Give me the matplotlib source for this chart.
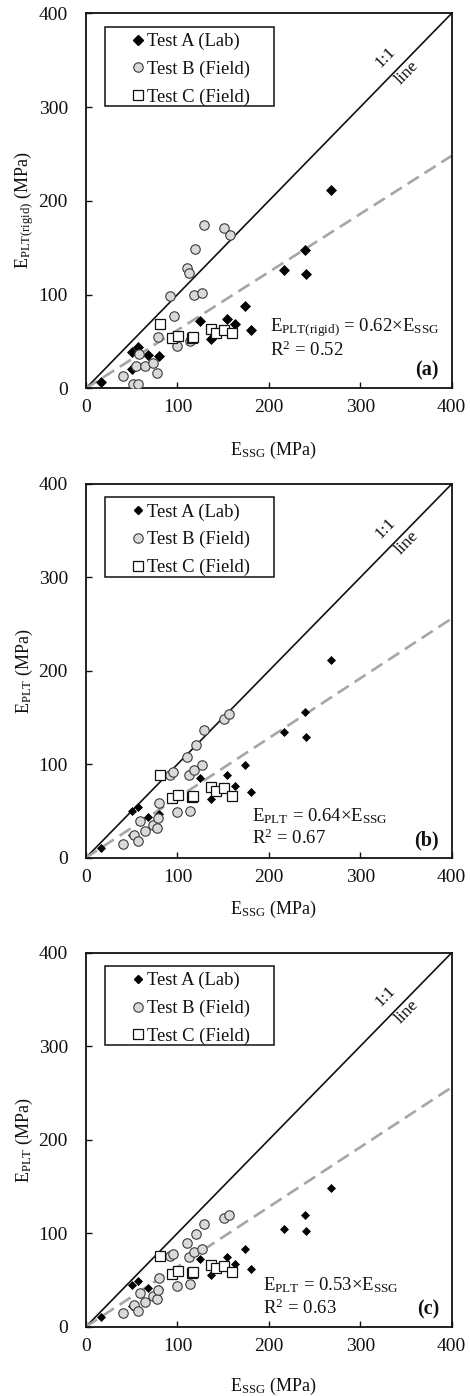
import matplotlib
matplotlib.use("Agg")
import matplotlib.pyplot as plt
from matplotlib.patches import Rectangle
from matplotlib.lines import Line2D

plt.rcParams['font.family'] = ['Liberation Serif', 'DejaVu Serif']
plt.rcParams['mathtext.fontset'] = 'custom'
plt.rcParams['mathtext.rm'] = 'Liberation Serif'
plt.rcParams['mathtext.it'] = 'Liberation Serif:italic'
plt.rcParams['mathtext.bf'] = 'Liberation Serif:bold'

# ---------------- data ----------------
# Test A (Lab): E_SSG shared by all panels
essg_A = [16, 50, 50, 57, 68, 80, 125, 137, 154.5, 162.5, 173.5, 180, 217, 240, 241, 267.5]
eplt_A_a = [7, 39, 21, 44, 35.5, 34.5, 72, 52.6, 73.6, 68.3, 88, 62, 126, 147.6, 122, 211.6]
eplt_A_b = [10, 50, 24, 54, 44, 47, 85, 63, 88, 77, 99, 70.5, 135, 156, 129.5, 211.6]
eplt_A_c = [10, 44.6, 22, 49.2, 41, 40, 72.4, 55.3, 74.9, 67, 82.8, 61.4, 105, 119, 102, 148]

# Test B (Field)
essg_B_a = [41, 51, 55, 57, 58.5, 64.5, 73.5, 77.5, 78.5, 92, 96.5, 100, 110, 113,
            114, 118, 119, 126.5, 129, 151, 157]
eplt_B_a = [13, 4.6, 23.8, 4.6, 36.3, 23.8, 27.3, 16.6, 55, 98.5, 77, 45, 128.7, 122.7,
            50.8, 99.5, 148.3, 102, 174, 170.7, 163.6]
essg_B = [41, 52, 57, 59, 64.5, 73.5, 77.5, 79, 80, 92, 95.5, 100, 110, 113, 114, 118,
          120, 126.5, 129, 151, 156.5]
eplt_B_b = [14.5, 24.3, 17.5, 39.3, 28.5, 34.5, 31.5, 42, 58.8, 88.5, 92, 48.5, 108, 88.5,
            50.5, 93.5, 121, 99.2, 136.7, 148, 153.8]
eplt_B_c = [14.7, 23.5, 17, 36.4, 26, 33, 29.3, 38.8, 52.6, 75.6, 77.6, 43.7, 89.5, 74.5,
            46, 80, 99, 82.8, 109.8, 116.3, 119.8]

# Test C (Field)
essg_C = [81, 94, 100.5, 116, 117.5, 137, 142, 150.5, 160]
eplt_C_a = [69, 53.3, 56.2, 53.8, 54.8, 63.5, 58.7, 61.7, 58.7]
eplt_C_b = [88.2, 63.5, 66.7, 64.8, 65.8, 76, 71.2, 74.3, 65.7]
eplt_C_c = [75.6, 56.3, 59.5, 57.3, 58.3, 66, 62.4, 64.5, 58.1]

# regression annotations
slope_text = [0.62, 0.64, 0.53]
r2_text = [0.52, 0.67, 0.63]
dashed_slope = [0.62, 0.64, 0.64]   # slope of the dashed line as drawn
panel_tags = ['(a)', '(b)', '(c)']
ylabel_subs = ['PLT(rigid)', 'PLT', 'PLT']
ticks = [0, 100, 200, 300, 400]
legend_labels = ['Test A (Lab)', 'Test B (Field)', 'Test C (Field)']

# ---------------- layout ----------------
W, H = 470, 1396
fig = plt.figure(figsize=(W / 100, H / 100), dpi=100)

ax_left, ax_right = 86, 451.7
ax_tops = [13.3, 484.0, 952.7]
ax_bots = [388.3, 857.7, 1326.7]
xlabel_off = [62, 52, 60]
ylabel_y = [0.475, 0.5, 0.5]
eq_pos = [(201, 64, 40), (182, 44, 21), (194, 44.6, 20)]
diamond_ms = [5.6, 4.2, 4.2]

A_sets = [eplt_A_a, eplt_A_b, eplt_A_c]
B_sets = [(essg_B_a, eplt_B_a), (essg_B, eplt_B_b), (essg_B, eplt_B_c)]
C_sets = [eplt_C_a, eplt_C_b, eplt_C_c]

circle_face = '#d9d9d9'
circle_edge = '#3a3a3a'
dash_col = '#a6a6a6'
ink = '#111111'

for i in range(3):
    l = ax_left / W
    w = (ax_right - ax_left) / W
    b = 1 - ax_bots[i] / H
    h = (ax_bots[i] - ax_tops[i]) / H
    ax = fig.add_axes([l, b, w, h])
    ax.set_xlim(0, 400)
    ax.set_ylim(0, 400)
    ax.set_xticks(ticks)
    ax.set_yticks(ticks)
    ax.tick_params(direction='in', length=4, width=1.0, labelsize=14, colors=ink)
    ax.tick_params(axis='x', pad=8)
    ax.tick_params(axis='y', pad=13)
    for sp in ax.spines.values():
        sp.set_linewidth(1.3)
        sp.set_color(ink)

    # 1:1 line and fitted line
    ax.plot([0, 400], [0, 400], color=ink, lw=1.2, zorder=2)
    ax.plot([0, 400], [0, 400 * dashed_slope[i]], color=dash_col, lw=1.9,
            dashes=(5.0, 2.6), zorder=2)

    # data
    ax.plot(essg_A, A_sets[i], linestyle='none', marker='D', ms=diamond_ms[i],
            mfc='black', mec='black', mew=0.5, zorder=3)
    ax.plot(B_sets[i][0], B_sets[i][1], linestyle='none', marker='o', ms=6.8,
            mfc=circle_face, mec=circle_edge, mew=0.8, zorder=4)
    ax.plot(essg_C, C_sets[i], linestyle='none', marker='s', ms=7.0,
            mfc='white', mec=ink, mew=0.9, zorder=5)

    # legend (frameless, with separate rectangle frame)
    handles = [
        Line2D([], [], linestyle='none', marker='D', ms=diamond_ms[i], mfc='black', mec='black'),
        Line2D([], [], linestyle='none', marker='o', ms=6.8, mfc=circle_face, mec=circle_edge, mew=0.8),
        Line2D([], [], linestyle='none', marker='s', ms=7.0, mfc='white', mec=ink, mew=0.9),
    ]
    leg = ax.legend(handles, legend_labels, loc='upper left', bbox_to_anchor=(0.12, 0.948),
                    frameon=False, borderpad=0, borderaxespad=0, handlelength=0.9,
                    handletextpad=0.02, labelspacing=0.56, fontsize=13.4)
    for t in leg.get_texts():
        t.set_color(ink)
    ax.add_patch(Rectangle((0.052, 0.752), 0.463, 0.212, transform=ax.transAxes,
                           fill=False, edgecolor=ink, lw=1.1, zorder=6))

    # 1:1 line label
    ang = 45.7
    ax.text(327, 353, '1:1', rotation=ang, rotation_mode='anchor', ha='center',
            va='center', fontsize=12.5, color=ink)
    ax.text(351, 337, 'line', rotation=ang, rotation_mode='anchor', ha='center',
            va='center', fontsize=12.5, color=ink)

    # equation
    ex, ey1, ey2 = eq_pos[i]
    sub = ylabel_subs[i]
    ax.text(ex, ey1, r'$\mathregular{E_{%s}}$ = %.2f×$\mathregular{E_{SSG}}$' % (sub, slope_text[i]),
            ha='left', va='center', fontsize=13.5, color=ink)
    ax.text(ex, ey2, r'$\mathregular{R^{2}}$ = %.2f' % r2_text[i],
            ha='left', va='center', fontsize=13.5, color=ink)

    # panel tag
    ax.text(386, 18.5, panel_tags[i], ha='right', va='center', fontsize=14.5,
            fontweight='bold', color=ink)

    # axis labels
    ax.set_xlabel(r'$\mathregular{E_{SSG}}$ (MPa)', fontsize=13, color=ink)
    ax.xaxis.label.set_va('center')
    ax.xaxis.set_label_coords(0.511, -xlabel_off[i] / (ax_bots[i] - ax_tops[i]))
    ax.set_ylabel(r'$\mathregular{E_{%s}}$ (MPa)' % sub, fontsize=13, color=ink)
    ax.yaxis.label.set_va('center')
    ax.yaxis.set_label_coords((24 - ax_left) / (ax_right - ax_left), ylabel_y[i])

fig.savefig('out.png', dpi=100, facecolor='white')
